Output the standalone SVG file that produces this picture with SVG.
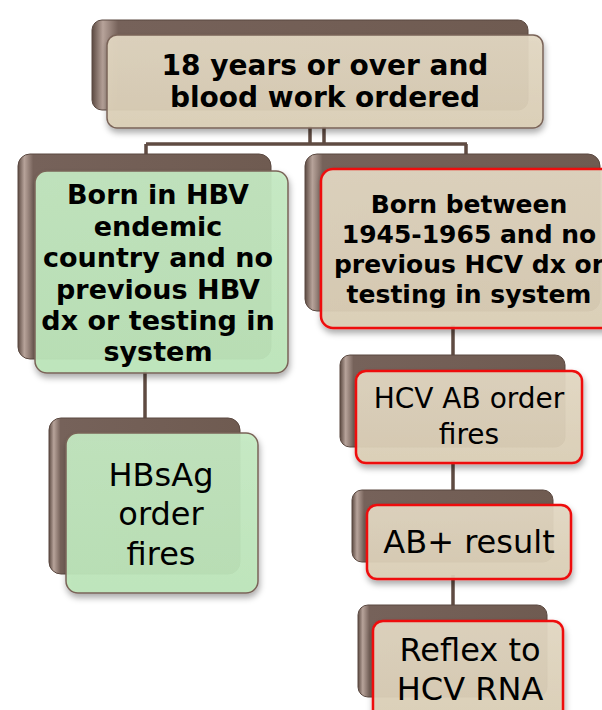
<svg xmlns="http://www.w3.org/2000/svg" width="602" height="710" viewBox="0 0 602 710">
<defs>
<linearGradient id="back" x1="0" y1="0" x2="1" y2="0">
<stop offset="0" stop-color="#5c4a42"/>
<stop offset="0.025" stop-color="#b7a39a"/>
<stop offset="0.06" stop-color="#76625a"/>
<stop offset="1" stop-color="#6f5b51"/>
</linearGradient>
<linearGradient id="beige" x1="0" y1="0" x2="0" y2="1">
<stop offset="0" stop-color="#e3d8c3"/>
<stop offset="1" stop-color="#dbcfb6"/>
</linearGradient>
<linearGradient id="green" x1="0" y1="0" x2="0" y2="1">
<stop offset="0" stop-color="#c5eac3"/>
<stop offset="1" stop-color="#bde6ba"/>
</linearGradient>
<filter id="sh" x="-10%" y="-10%" width="125%" height="130%">
<feDropShadow dx="1" dy="4" stdDeviation="3" flood-color="#000" flood-opacity="0.35"/>
</filter>
</defs>
<style>
.back{fill:url(#back);stroke:#5a4840;stroke-width:1}
.fb{fill:url(#beige);fill-opacity:0.93;stroke:#7a6458;stroke-width:1.5;filter:url(#sh)}
.fg{fill:url(#green);fill-opacity:0.93;stroke:#7a6458;stroke-width:1.5;filter:url(#sh)}
.fr{fill:url(#beige);fill-opacity:0.93;stroke:#ee1111;stroke-width:2.5;filter:url(#sh)}
.conn{stroke:#5f4b42;stroke-width:3.5;fill:none}
.b{font-family:"DejaVu Sans",Verdana,sans-serif;font-weight:bold;fill:#000;text-anchor:middle}
.n{font-family:"DejaVu Sans",Verdana,sans-serif;fill:#000;text-anchor:middle}
</style>
<g id="connectors">
<path class="conn" d="M310,126 V144 M324,126 V144 M146,144 H467 M146,144 V158 M466,144 V158"/>
<path class="conn" d="M145,370 V420"/>
<path class="conn" d="M453,325 V372 M453,460 V506 M453,575 V622"/>
</g>
<g id="n_top">
<rect class="back" x="92" y="20" width="436" height="90" rx="10"/>
<rect class="fb" x="107" y="35" width="436" height="93" rx="10"/>
<text class="b" font-size="28" x="325" y="75">18 years or over and</text>
<text class="b" font-size="28" x="325" y="107">blood work ordered</text>
</g>
<g id="n_hbv">
<rect class="back" x="18" y="154" width="253" height="205" rx="12"/>
<rect class="fg" x="35" y="171" width="253" height="202" rx="12"/>
<text class="b" font-size="27" x="158" y="204">Born in HBV</text>
<text class="b" font-size="27" x="158" y="235.5">endemic</text>
<text class="b" font-size="27" x="158" y="267">country and no</text>
<text class="b" font-size="27" x="158" y="298.5">previous HBV</text>
<text class="b" font-size="27" x="158" y="330">dx or testing in</text>
<text class="b" font-size="27" x="158" y="361">system</text>
</g>
<g id="n_hcv">
<rect class="back" x="305" y="154" width="295" height="157" rx="12"/>
<rect class="fr" x="321" y="169" width="300" height="159" rx="12"/>
<text class="b" font-size="25" x="469" y="213">Born between</text>
<text class="b" font-size="25" x="469" y="243">1945-1965 and no</text>
<text class="b" font-size="25" x="469" y="273">previous HCV dx or</text>
<text class="b" font-size="25" x="469" y="303">testing in system</text>
</g>
<g id="n_hbsag">
<rect class="back" x="49" y="418" width="191" height="156" rx="12"/>
<rect class="fg" x="66" y="433" width="192" height="160" rx="12"/>
<text class="n" font-size="32" x="161" y="486">HBsAg</text>
<text class="n" font-size="32" x="161" y="525">order</text>
<text class="n" font-size="32" x="161" y="565">fires</text>
</g>
<g id="n_hcvab">
<rect class="back" x="340" y="355" width="225" height="92" rx="10"/>
<rect class="fr" x="356" y="371" width="226" height="92" rx="10"/>
<text class="n" font-size="28" x="469" y="408">HCV AB order</text>
<text class="n" font-size="28" x="469" y="444">fires</text>
</g>
<g id="n_abpos">
<rect class="back" x="352" y="490" width="201" height="72" rx="10"/>
<rect class="fr" x="367" y="505" width="204" height="74" rx="10"/>
<text class="n" font-size="32" x="469" y="553">AB+ result</text>
</g>
<g id="n_reflex">
<rect class="back" x="358" y="605" width="189" height="92" rx="10"/>
<rect class="fr" x="373" y="621" width="190" height="100" rx="10"/>
<text class="n" font-size="32" x="470" y="661">Reflex to</text>
<text class="n" font-size="32" x="470" y="700">HCV RNA</text>
</g>
</svg>
